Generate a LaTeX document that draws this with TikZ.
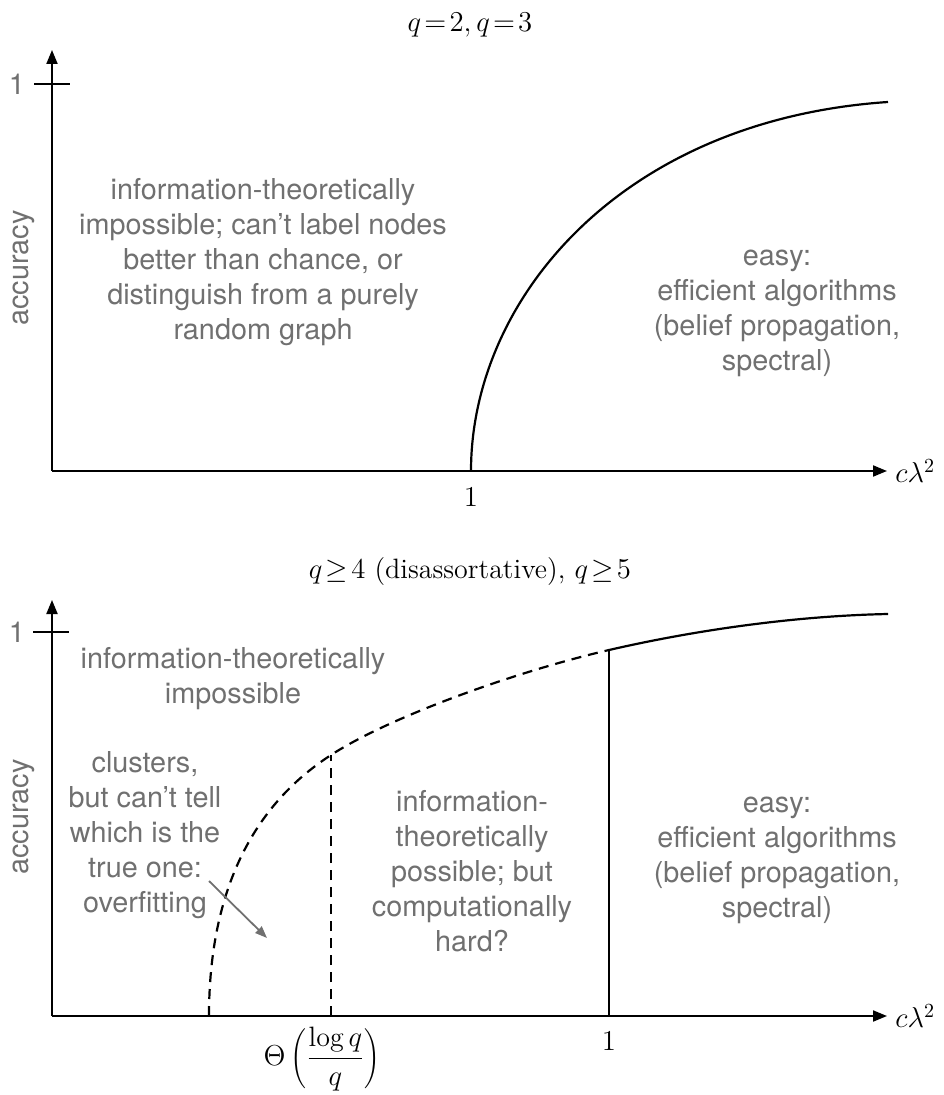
\documentclass[tikz,border=0pt]{standalone}
\usepackage{fontspec}
\newfontfamily\heros{TeX Gyre Heros}
\usetikzlibrary{arrows.meta}
\definecolor{txtgray}{RGB}{112,112,112}
\begin{document}
\begin{tikzpicture}[x=0.5pt,y=-0.5pt,
    txt/.style={text=txtgray,font=\heros\fontsize{14.4}{17.5}\selectfont,align=center,inner sep=0pt},
    mth/.style={font=\fontsize{14}{17}\selectfont,inner sep=0pt},
    ax/.style={line width=1pt,-{Triangle[length=7pt,width=5.5pt]}},
    crv/.style={line width=1.1pt},
    dsh/.style={dash pattern=on 5pt off 3.5pt}]
    \useasboundingbox (0,0) rectangle (943,1095);
    % top panel
    \node[mth] (t1) at (470,25) {$\thickmuskip=2mu q=2, q=3$};
    \coordinate (o1) at (52,471);
    \coordinate (ye1) at (52,50);
    \coordinate (xe1) at (887,471);
    \coordinate (k1) at (471,471);
    \coordinate (e1) at (888,102);
    \draw[ax] (o1) -- (ye1);
    \draw[ax] (o1) -- (xe1);
    \draw[line width=1pt] (34,84) -- (70,84);
    \node[txt] (one1) at (17,84) {1};
    \node[mth,anchor=west] (x1) at (895,471) {$c\lambda^2$};
    \node[txt,rotate=90] (acc1) at (24,268) {accuracy};
    \node[mth] (k1l) at (471,497) {$1$};
    \draw[crv] (k1) .. controls (471,300) and (620,120) .. (e1);
    \node[txt] (imp1) at (263,262) {information-theoretically\\impossible; can’t label nodes\\better than chance, or\\distinguish from a purely\\random graph};
    \node[txt] (easy1) at (777,313) {easy:\\efficient algorithms\\(belief propagation,\\spectral)};
    % bottom panel
    \node[mth] (t2) at (470,572) {$\thickmuskip=2mu q\geq 4$ (disassortative), $\thickmuskip=2mu q\geq 5$};
    \coordinate (o2) at (52,1016);
    \coordinate (ye2) at (52,600);
    \coordinate (xe2) at (887,1016);
    \coordinate (s2) at (209,1016);
    \coordinate (a2) at (331,755);
    \coordinate (b2) at (609,650);
    \coordinate (e2) at (888,614);
    \coordinate (ka2) at (331,1016);
    \coordinate (kb2) at (609,1016);
    \draw[ax] (o2) -- (ye2);
    \draw[ax] (o2) -- (xe2);
    \draw[line width=1pt] (33,632) -- (69,632);
    \node[txt] (one2) at (17,632) {1};
    \node[mth,anchor=west] (x2) at (895,1016) {$c\lambda^2$};
    \node[txt,rotate=90] (acc2) at (24,817) {accuracy};
    \draw[crv,dsh] (s2) .. controls (209,856) and (281,787.5) .. (a2)
        .. controls (391,716) and (519,670.7) .. (b2);
    \draw[crv] (b2) .. controls (699,629.3) and (798,615.8) .. (e2);
    \draw[line width=1pt,dsh] (ka2) -- (a2);
    \draw[line width=0.8pt] (kb2) -- (b2);
    \node[mth] (ka2l) at (322,1059) {$\Theta\left(\displaystyle\frac{\log q}{q}\right)$};
    \node[mth] (kb2l) at (609,1041) {$1$};
    \node[txt] (imp2) at (233,679) {information-theoretically\\impossible};
    \node[txt] (clu2) at (145,835) {clusters,\\but can’t tell\\which is the\\true one:\\overfitting};
    \node[txt] (hard2) at (472,871) {information-\\theoretically\\possible; but\\computationally\\hard?};
    \node[txt] (easy2) at (777,860) {easy:\\efficient algorithms\\(belief propagation,\\spectral)};
    \coordinate (p2) at (267,938);
    \draw[txtgray,line width=0.9pt,-{Triangle[length=6pt,width=4.5pt]}] (209,881) -- (p2);
\end{tikzpicture}
\end{document}
